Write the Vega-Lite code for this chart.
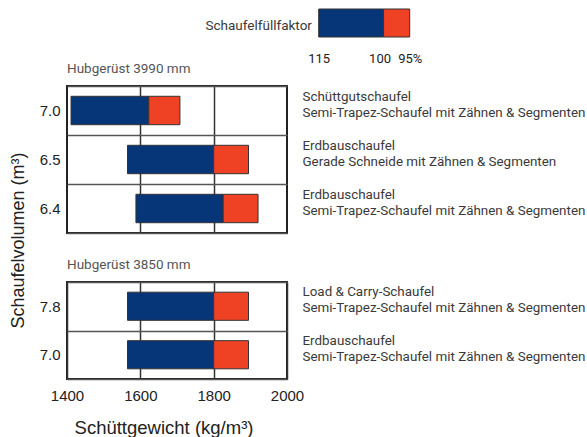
{
  "$schema": "https://vega.github.io/schema/vega-lite/v6.json",
  "background": "white",
  "padding": {"left": 8, "top": 3, "right": 0, "bottom": 0},
  "bounds": "flush",
  "spacing": 49,
  "datasets": {
    "schaufeln": [
      {"hub": "Hubgerüst 3990 mm", "vol": "7.0", "typ": "Schüttgutschaufel", "aus": "Semi-Trapez-Schaufel mit Zähnen & Segmenten", "d115": 1411, "d100": 1623, "d95": 1708},
      {"hub": "Hubgerüst 3990 mm", "vol": "6.5", "typ": "Erdbauschaufel", "aus": "Gerade Schneide mit Zähnen & Segmenten", "d115": 1565, "d100": 1800, "d95": 1895},
      {"hub": "Hubgerüst 3990 mm", "vol": "6.4", "typ": "Erdbauschaufel", "aus": "Semi-Trapez-Schaufel mit Zähnen & Segmenten", "d115": 1588, "d100": 1826, "d95": 1921},
      {"hub": "Hubgerüst 3850 mm", "vol": "7.8", "typ": "Load & Carry-Schaufel", "aus": "Semi-Trapez-Schaufel mit Zähnen & Segmenten", "d115": 1565, "d100": 1800, "d95": 1895},
      {"hub": "Hubgerüst 3850 mm", "vol": "7.0", "typ": "Erdbauschaufel", "aus": "Semi-Trapez-Schaufel mit Zähnen & Segmenten", "d115": 1565, "d100": 1800, "d95": 1895}
    ],
    "legende": [
      {"faktor": "115–100 %", "von": 86.96, "bis": 100},
      {"faktor": "100–95 %", "von": 100, "bis": 105.26}
    ]
  },
  "vconcat": [
    {
      "width": 343,
      "height": 34,
      "view": {"stroke": null},
      "layer": [
        {
          "data": {"name": "legende"},
          "mark": {"type": "rect", "stroke": "#333", "strokeWidth": 1, "yOffset": 6},
          "encoding": {
            "x": {"field": "von", "type": "quantitative",
              "scale": {"domain": [36.35, 105.32], "nice": false, "zero": false},
              "axis": {"values": [86.96, 99.2, 105.26], "labelExpr": "datum.value < 90 ? '115' : datum.value < 102 ? '100' : '95%'", "labelOverlap": false, "labelFlush": false, "title": null, "grid": false, "ticks": false, "domain": false, "labelFont": "Roboto", "labelFontSize": 13, "labelPadding": 15, "labelColor": "#222"}},
            "x2": {"field": "bis"},
            "color": {"field": "faktor", "type": "nominal", "scale": {"domain": ["115–100 %", "100–95 %"], "range": ["#063677", "#EF4123"]}, "legend": null}
          }
        },
        {
          "data": {"values": [{"titel": "Schaufelfüllfaktor", "pos": 85.6}]},
          "mark": {"type": "text", "align": "right", "baseline": "middle", "yOffset": 6, "font": "Roboto", "fontSize": 13.5, "color": "#3a3a3a"},
          "encoding": {
            "x": {"field": "pos", "type": "quantitative"},
            "text": {"field": "titel"}
          }
        }
      ]
    },
    {
      "width": 220,
      "height": 147,
      "title": {"text": "Hubgerüst 3990 mm", "anchor": "start", "frame": "group", "font": "Roboto", "fontSize": 13.5, "fontWeight": "normal", "color": "#555", "offset": 4},
      "data": {"name": "schaufeln"},
      "transform": [
        {"filter": "datum.hub == 'Hubgerüst 3990 mm'"},
        {"calculate": "datum.vol + '|' + datum.typ + '|' + datum.aus", "as": "key"}
      ],
      "layer": [
        {
          "mark": {"type": "bar", "color": "#063677", "stroke": "#333", "strokeWidth": 1, "height": {"band": 0.58}},
          "encoding": {
            "x": {"field": "d115", "type": "quantitative", "scale": {"domain": [1400, 2000], "nice": false, "zero": false},
              "axis": {"values": [1600, 1800], "labels": false, "ticks": false, "domain": false, "title": null, "grid": true, "gridColor": "#333", "gridWidth": 1.5}},
            "x2": {"field": "d100"},
            "y": {"field": "key", "type": "nominal", "sort": null, "scale": {"paddingInner": 0, "paddingOuter": 0},
              "axis": {"orient": "left", "labelExpr": "isString(datum.value) ? split(datum.value, '|')[0] : ''", "grid": true, "tickBand": "extent", "gridColor": "#555", "gridWidth": 1.5, "ticks": false, "domain": false, "labelFontSize": 15, "labelPadding": 7, "title": "Schaufelvolumen (m³)", "titleFontSize": 18, "titleY": 154, "titlePadding": 12}}
          }
        },
        {
          "mark": {"type": "bar", "color": "#EF4123", "stroke": "#333", "strokeWidth": 1, "height": {"band": 0.58}},
          "encoding": {
            "x": {"field": "d100", "type": "quantitative"},
            "x2": {"field": "d95"},
            "y": {"field": "key", "type": "nominal", "sort": null,
              "axis": {"orient": "right", "labelExpr": "isString(datum.value) ? slice(split(datum.value, '|'), 1) : ''", "grid": false, "ticks": false, "domain": false, "labelAlign": "left", "labelFont": "Roboto", "labelFontSize": 13.4, "labelLineHeight": 16, "labelColor": "#3a3a3a", "labelPadding": 15, "labelOffset": -14, "labelLimit": 0, "title": null}}
          }
        }
      ],
      "resolve": {"axis": {"y": "independent"}}
    },
    {
      "width": 220,
      "height": 97,
      "title": {"text": "Hubgerüst 3850 mm", "anchor": "start", "frame": "group", "font": "Roboto", "fontSize": 13.5, "fontWeight": "normal", "color": "#555", "offset": 4},
      "data": {"name": "schaufeln"},
      "transform": [
        {"filter": "datum.hub == 'Hubgerüst 3850 mm'"},
        {"calculate": "datum.vol + '|' + datum.typ + '|' + datum.aus", "as": "key"}
      ],
      "layer": [
        {
          "mark": {"type": "bar", "color": "#063677", "stroke": "#333", "strokeWidth": 1, "height": {"band": 0.58}},
          "encoding": {
            "x": {"field": "d115", "type": "quantitative", "scale": {"domain": [1400, 2000], "nice": false, "zero": false},
              "axis": {"values": [1400, 1600, 1800, 2000], "format": "d", "labelFlush": false, "ticks": false, "domain": false, "grid": true, "gridColor": "#333", "gridWidth": 1.5, "labelFontSize": 15, "labelPadding": 9, "title": "Schüttgewicht (kg/m³)", "titleFontSize": 18.5, "titlePadding": 15, "titleX": 96.5}},
            "x2": {"field": "d100"},
            "y": {"field": "key", "type": "nominal", "sort": null, "scale": {"paddingInner": 0, "paddingOuter": 0},
              "axis": {"orient": "left", "labelExpr": "isString(datum.value) ? split(datum.value, '|')[0] : ''", "grid": true, "tickBand": "extent", "gridColor": "#555", "gridWidth": 1.5, "ticks": false, "domain": false, "labelFontSize": 15, "labelPadding": 7, "title": null}}
          }
        },
        {
          "mark": {"type": "bar", "color": "#EF4123", "stroke": "#333", "strokeWidth": 1, "height": {"band": 0.58}},
          "encoding": {
            "x": {"field": "d100", "type": "quantitative"},
            "x2": {"field": "d95"},
            "y": {"field": "key", "type": "nominal", "sort": null,
              "axis": {"orient": "right", "labelExpr": "isString(datum.value) ? slice(split(datum.value, '|'), 1) : ''", "grid": false, "ticks": false, "domain": false, "labelAlign": "left", "labelFont": "Roboto", "labelFontSize": 13.4, "labelLineHeight": 16, "labelColor": "#3a3a3a", "labelPadding": 15, "labelOffset": -14, "labelLimit": 0, "title": null}}
          }
        }
      ],
      "resolve": {"axis": {"y": "independent"}}
    }
  ],
  "config": {
    "view": {"stroke": "#222", "strokeWidth": 2},
    "font": "Liberation Sans",
    "axis": {"labelFont": "Liberation Sans", "labelColor": "#222", "titleFont": "Liberation Sans", "titleColor": "#222", "titleFontWeight": "normal"}
  }
}
